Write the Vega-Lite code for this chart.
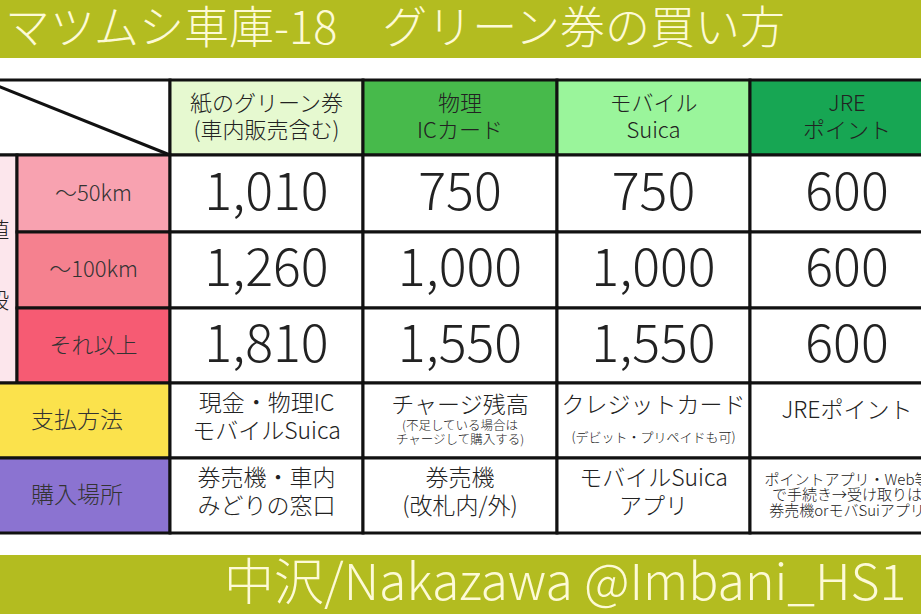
{
  "$schema": "https://vega.github.io/schema/vega-lite/v6.json",
  "width": 921,
  "height": 614,
  "autosize": {"type": "none"},
  "padding": 0,
  "background": "white",
  "config": {
    "view": {"stroke": null},
    "text": {"font": "Noto Sans CJK JP", "fontWeight": 300, "color": "#222222", "lineBreak": "\n", "align": "center", "baseline": "middle"}
  },
  "datasets": {
    "cells": [
      {"x0": 0, "x1": 6, "y0": 0, "y1": 1, "kind": "band"},
      {"x0": 0, "x1": 6, "y0": 9, "y1": 10.5, "kind": "band"},
      {"x0": 0, "x1": 2, "y0": 2, "y1": 3, "kind": "white"},
      {"x0": 2, "x1": 3, "y0": 2, "y1": 3, "kind": "h_paper"},
      {"x0": 3, "x1": 4, "y0": 2, "y1": 3, "kind": "h_ic"},
      {"x0": 4, "x1": 5, "y0": 2, "y1": 3, "kind": "h_mobile"},
      {"x0": 5, "x1": 6, "y0": 2, "y1": 3, "kind": "h_jre"},
      {"x0": 0, "x1": 1, "y0": 3, "y1": 6, "kind": "price"},
      {"x0": 1, "x1": 2, "y0": 3, "y1": 4, "kind": "d50"},
      {"x0": 1, "x1": 2, "y0": 4, "y1": 5, "kind": "d100"},
      {"x0": 1, "x1": 2, "y0": 5, "y1": 6, "kind": "dmore"},
      {"x0": 0, "x1": 2, "y0": 6, "y1": 7, "kind": "pay"},
      {"x0": 0, "x1": 2, "y0": 7, "y1": 8, "kind": "buy"},
      {"x0": 2, "x1": 3, "y0": 3, "y1": 4, "kind": "white"},
      {"x0": 3, "x1": 4, "y0": 3, "y1": 4, "kind": "white"},
      {"x0": 4, "x1": 5, "y0": 3, "y1": 4, "kind": "white"},
      {"x0": 5, "x1": 6, "y0": 3, "y1": 4, "kind": "white"},
      {"x0": 2, "x1": 3, "y0": 4, "y1": 5, "kind": "white"},
      {"x0": 3, "x1": 4, "y0": 4, "y1": 5, "kind": "white"},
      {"x0": 4, "x1": 5, "y0": 4, "y1": 5, "kind": "white"},
      {"x0": 5, "x1": 6, "y0": 4, "y1": 5, "kind": "white"},
      {"x0": 2, "x1": 3, "y0": 5, "y1": 6, "kind": "white"},
      {"x0": 3, "x1": 4, "y0": 5, "y1": 6, "kind": "white"},
      {"x0": 4, "x1": 5, "y0": 5, "y1": 6, "kind": "white"},
      {"x0": 5, "x1": 6, "y0": 5, "y1": 6, "kind": "white"},
      {"x0": 2, "x1": 3, "y0": 6, "y1": 7, "kind": "white"},
      {"x0": 3, "x1": 4, "y0": 6, "y1": 7, "kind": "white"},
      {"x0": 4, "x1": 5, "y0": 6, "y1": 7, "kind": "white"},
      {"x0": 5, "x1": 6, "y0": 6, "y1": 7, "kind": "white"},
      {"x0": 2, "x1": 3, "y0": 7, "y1": 8, "kind": "white"},
      {"x0": 3, "x1": 4, "y0": 7, "y1": 8, "kind": "white"},
      {"x0": 4, "x1": 5, "y0": 7, "y1": 8, "kind": "white"},
      {"x0": 5, "x1": 6, "y0": 7, "y1": 8, "kind": "white"}
    ],
    "texts": [
      {"role": "title", "cx": 1, "cy": 0.5, "text": "マツムシ車庫-18　グリーン券の買い方"},
      {"role": "footer", "cx": 2, "cy": 9.5, "text": "中沢/Nakazawa @Imbani_HS1"},
      {"role": "header", "cx": 2.5, "cy": 2.5, "text": "紙のグリーン券\n(車内販売含む)"},
      {"role": "header", "cx": 3.5, "cy": 2.5, "text": "物理\nICカード"},
      {"role": "header", "cx": 4.5, "cy": 2.5, "text": "モバイル\nSuica"},
      {"role": "header", "cx": 5.5, "cy": 2.5, "text": "JRE\nポイント"},
      {"role": "price", "cx": 0.45, "cy": 4.5, "text": "値\n段"},
      {"role": "dist", "cx": 1.5, "cy": 3.5, "text": "～50km"},
      {"role": "dist", "cx": 1.5, "cy": 4.5, "text": "～100km"},
      {"role": "dist", "cx": 1.5, "cy": 5.5, "text": "それ以上"},
      {"role": "number", "cx": 2.5, "cy": 3.5, "text": "1,010"},
      {"role": "number", "cx": 3.5, "cy": 3.5, "text": "750"},
      {"role": "number", "cx": 4.5, "cy": 3.5, "text": "750"},
      {"role": "number", "cx": 5.5, "cy": 3.5, "text": "600"},
      {"role": "number", "cx": 2.5, "cy": 4.5, "text": "1,260"},
      {"role": "number", "cx": 3.5, "cy": 4.5, "text": "1,000"},
      {"role": "number", "cx": 4.5, "cy": 4.5, "text": "1,000"},
      {"role": "number", "cx": 5.5, "cy": 4.5, "text": "600"},
      {"role": "number", "cx": 2.5, "cy": 5.5, "text": "1,810"},
      {"role": "number", "cx": 3.5, "cy": 5.5, "text": "1,550"},
      {"role": "number", "cx": 4.5, "cy": 5.5, "text": "1,550"},
      {"role": "number", "cx": 5.5, "cy": 5.5, "text": "600"},
      {"role": "label", "cx": 1, "cy": 6.5, "text": "支払方法"},
      {"role": "label", "cx": 1, "cy": 7.5, "text": "購入場所"},
      {"role": "body", "cx": 2.5, "cy": 6.5, "text": "現金・物理IC\nモバイルSuica"},
      {"role": "sub", "cx": 3.5, "cy": 6.5, "text": "チャージ残高"},
      {"role": "noteA", "cx": 3.5, "cy": 6.5, "text": "(不足している場合は\nチャージして購入する)"},
      {"role": "sub", "cx": 4.5, "cy": 6.5, "text": "クレジットカード"},
      {"role": "noteB", "cx": 4.5, "cy": 6.5, "text": "(デビット・プリペイドも可)"},
      {"role": "single", "cx": 5.5, "cy": 6.5, "text": "JREポイント"},
      {"role": "body", "cx": 2.5, "cy": 7.5, "text": "券売機・車内\nみどりの窓口"},
      {"role": "body", "cx": 3.5, "cy": 7.5, "text": "券売機\n(改札内/外)"},
      {"role": "body", "cx": 4.5, "cy": 7.5, "text": "モバイルSuica\nアプリ"},
      {"role": "small", "cx": 5.5, "cy": 7.5, "text": "ポイントアプリ・Web等\nで手続き→受け取りは\n券売機orモバSuiアプリ"}
    ],
    "diagonal": [
      {"x0": 0, "x1": 2, "y0": 2, "y1": 3}
    ]
  },
  "layer": [
    {
      "data": {"name": "cells"},
      "transform": [{"filter": "datum.kind === 'band'"}],
      "mark": {"type": "rect", "clip": true},
      "encoding": {
        "x": {"field": "x0", "type": "quantitative", "axis": null, "scale": {"domain": [0, 1, 2, 3, 4, 5, 6], "range": [-17, 17, 170, 363, 557, 750, 944], "nice": false, "zero": false}},
        "x2": {"field": "x1"},
        "y": {"field": "y0", "type": "quantitative", "axis": null, "scale": {"domain": [0, 1, 2, 3, 4, 5, 6, 7, 8, 9, 10], "range": [0, 58, 80, 155, 232, 308, 383, 458, 533, 555, 614], "nice": false, "zero": false}},
        "y2": {"field": "y1"},
        "color": {"value": "#b3bc20"}
      }
    },
    {
      "data": {"name": "cells"},
      "transform": [{"filter": "datum.kind !== 'band'"}],
      "mark": {"type": "rect", "clip": true, "stroke": "#111111", "strokeWidth": 3},
      "encoding": {
        "x": {"field": "x0", "type": "quantitative", "axis": null},
        "x2": {"field": "x1"},
        "y": {"field": "y0", "type": "quantitative", "axis": null},
        "y2": {"field": "y1"},
        "fill": {
          "field": "kind", "type": "nominal", "legend": null,
          "scale": {
            "domain": ["white", "h_paper", "h_ic", "h_mobile", "h_jre", "price", "d50", "d100", "dmore", "pay", "buy"],
            "range": ["#ffffff", "#e6f9d0", "#47ba4b", "#9af59b", "#17a653", "#fce6ec", "#f8a2b0", "#f5818f", "#f65b73", "#fbe24c", "#8b73d1"]
          }
        }
      }
    },
    {
      "data": {"name": "diagonal"},
      "mark": {"type": "rule", "clip": true, "color": "#111111", "strokeWidth": 3},
      "encoding": {
        "x": {"field": "x0", "type": "quantitative", "axis": null},
        "x2": {"field": "x1"},
        "y": {"field": "y0", "type": "quantitative", "axis": null},
        "y2": {"field": "y1"}
      }
    },
    {
      "data": {"name": "texts"},
      "encoding": {
        "x": {"field": "cx", "type": "quantitative", "axis": null},
        "y": {"field": "cy", "type": "quantitative", "axis": null},
        "text": {"field": "text"}
      },
      "layer": [
        {"transform": [{"filter": "datum.role === 'title'"}], "mark": {"type": "text", "clip": true, "align": "left", "dx": -12, "dy": 1, "fontSize": 45, "color": "#fdfad6"}},
        {"transform": [{"filter": "datum.role === 'footer'"}], "mark": {"type": "text", "clip": true, "align": "left", "dx": 54, "dy": 0, "fontSize": 50, "color": "#fdfad6"}},
        {"transform": [{"filter": "datum.role === 'header'"}], "mark": {"type": "text", "clip": true, "fontSize": 22, "lineHeight": 27, "dy": -14}},
        {"transform": [{"filter": "datum.role === 'price'"}], "mark": {"type": "text", "clip": true, "fontSize": 22, "lineHeight": 70, "dy": -39}},
        {"transform": [{"filter": "datum.role === 'dist'"}], "mark": {"type": "text", "clip": true, "fontSize": 22, "color": "#333333"}},
        {"transform": [{"filter": "datum.role === 'number'"}], "mark": {"type": "text", "clip": true, "fontSize": 52}},
        {"transform": [{"filter": "datum.role === 'label'"}], "mark": {"type": "text", "clip": true, "fontSize": 23, "dx": 60, "color": "#333333"}},
        {"transform": [{"filter": "datum.role === 'body'"}], "mark": {"type": "text", "clip": true, "fontSize": 23, "lineHeight": 28, "dy": -17}},
        {"transform": [{"filter": "datum.role === 'single'"}], "mark": {"type": "text", "clip": true, "fontSize": 23, "dy": -10}},
        {"transform": [{"filter": "datum.role === 'sub'"}], "mark": {"type": "text", "clip": true, "fontSize": 23, "dy": -15}},
        {"transform": [{"filter": "datum.role === 'noteA'"}], "mark": {"type": "text", "clip": true, "fontSize": 12.5, "lineHeight": 14, "dy": 5}},
        {"transform": [{"filter": "datum.role === 'noteB'"}], "mark": {"type": "text", "clip": true, "fontSize": 13, "dy": 17}},
        {"transform": [{"filter": "datum.role === 'small'"}], "mark": {"type": "text", "clip": true, "fontSize": 15, "lineHeight": 15.5, "dy": -16}}
      ]
    }
  ]
}
